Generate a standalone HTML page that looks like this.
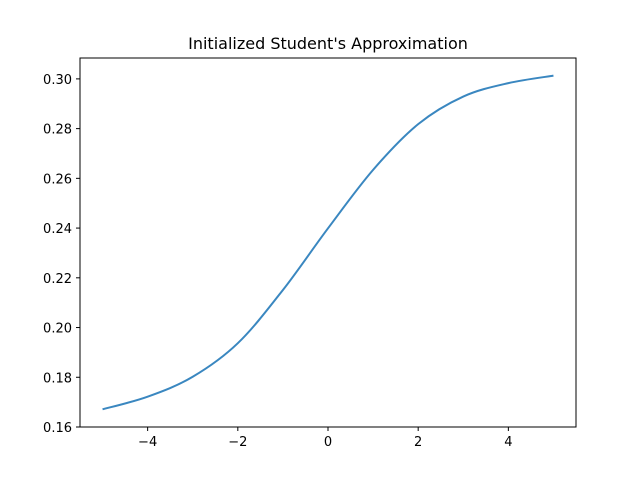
<!DOCTYPE html>
<html><head><meta charset="utf-8"><style>
body{margin:0;background:#fff;}
svg text{font-family:"DejaVu Sans","Liberation Sans",sans-serif;}
</style></head><body>
<svg id="chart" width="640" height="480">
<rect width="640" height="480" fill="#fff"/>
<text x="328" y="49" text-anchor="middle" font-size="16">Initialized Student's Approximation</text>
<g id="plot"></g>
<rect x="80" y="58" width="496" height="369" fill="none" stroke="#000" stroke-width="1"/>
</svg>
<script>
const xValues=[-5,-4,-3,-2,-1,0,1,2,3,4,5];
const yValues=[0.1671,0.1722,0.1802,0.1937,0.2151,0.2399,0.2634,0.2818,0.2929,0.2983,0.3013];
const xTicks=[-4,-2,0,2,4];
const yTicks=[0.16,0.18,0.20,0.22,0.24,0.26,0.28,0.30];
const X0=80,X1=576,Y0=427,Y1=58,xmin=-5.5,xmax=5.5,ymin=0.16,ymax=0.3084;
const sx=v=>X0+(v-xmin)/(xmax-xmin)*(X1-X0);
const sy=v=>Y0-(v-ymin)/(ymax-ymin)*(Y0-Y1);
const g=document.getElementById('plot');
const NS='http://www.w3.org/2000/svg';
function mk(t,a){const e=document.createElementNS(NS,t);for(const k in a)e.setAttribute(k,a[k]);g.appendChild(e);return e;}
xTicks.forEach(t=>{
 const l=mk('line',{x1:sx(t),x2:sx(t),y1:Y0,y2:Y0+4,stroke:'#000'});
 
 
 const tx=mk('text',{x:sx(t),y:Y0+19,'text-anchor':'middle','font-size':'13'});
 tx.textContent=(t<0?'\u2212':'')+Math.abs(t);
 
 
});
yTicks.forEach(t=>{
 const l=mk('line',{x1:X0-4,x2:X0,y1:sy(t),y2:sy(t),stroke:'#000'});
 
 
 const tx=mk('text',{x:X0-8,y:sy(t)+5,'text-anchor':'end','font-size':'13'});
 tx.textContent=t.toFixed(2);
 
 
});
const pts=xValues.map((x,i)=>[sx(x),sy(yValues[i])]);
let d='M'+pts[0][0]+','+pts[0][1];
for(let i=0;i<pts.length-1;i++){
 const p0=pts[Math.max(0,i-1)],p1=pts[i],p2=pts[i+1],p3=pts[Math.min(pts.length-1,i+2)];
 const c1=[p1[0]+(p2[0]-p0[0])/6,p1[1]+(p2[1]-p0[1])/6];
 const c2=[p2[0]-(p3[0]-p1[0])/6,p2[1]-(p3[1]-p1[1])/6];
 d+=' C'+c1+' '+c2+' '+p2;
}
const path=mk('path',{d:d,fill:'none',stroke:'#3a87c0','stroke-width':'2'});


</script>
</body></html>
